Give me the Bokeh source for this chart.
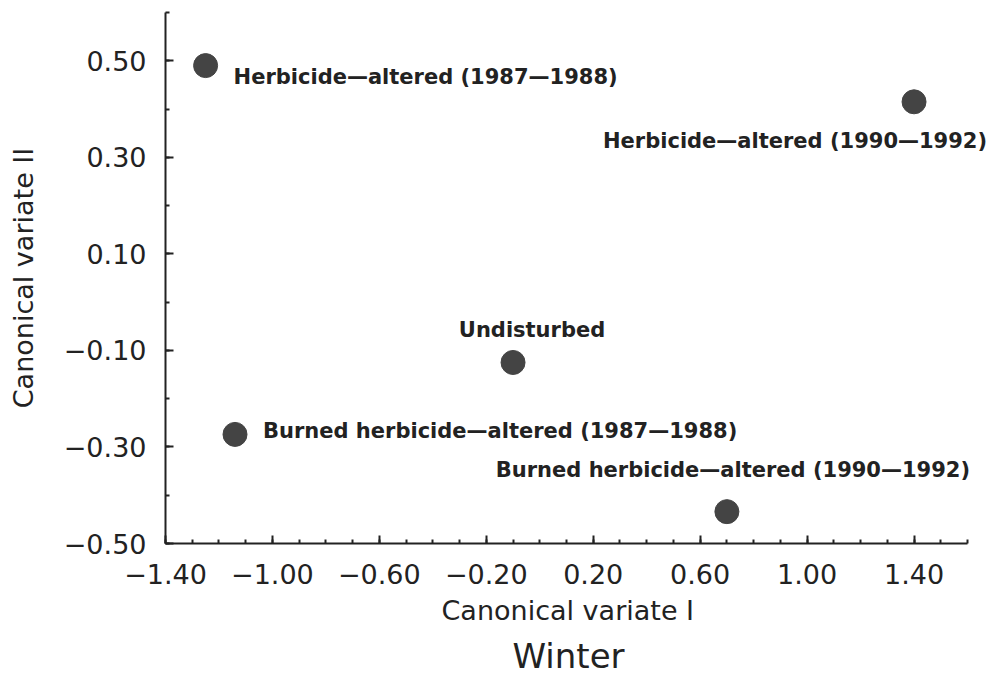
from bokeh.plotting import figure
from bokeh.models import FixedTicker, ColumnDataSource, Title
from bokeh.core.properties import value
from bokeh.embed import file_html
from bokeh.resources import INLINE

# Data
groups = ["Herbicide\u2014altered (1987\u20141988)",
          "Herbicide\u2014altered (1990\u20141992)",
          "Undisturbed",
          "Burned herbicide\u2014altered (1987\u20141988)",
          "Burned herbicide\u2014altered (1990\u20141992)"]
cv1 = [-1.25, 1.40, -0.10, -1.14, 0.70]
cv2 = [0.49, 0.415, -0.125, -0.274, -0.434]

x_ticks = [-1.40, -1.00, -0.60, -0.20, 0.20, 0.60, 1.00, 1.40]
y_ticks = [-0.50, -0.30, -0.10, 0.10, 0.30, 0.50]
x_lo, x_hi = -1.40, 1.60
y_lo, y_hi = -0.50, 0.60

# label placement (style, screen px relative to point)
lab_dx = [28, -119, 19, 28, 6]
lab_dy = [11, 39, -32, -3, -42]
lab_align = ["left", "center", "center", "left", "center"]

FONT = "DejaVu Sans"
INK = "#222222"

src = ColumnDataSource(dict(x=cv1, y=cv2, name=groups, dx=lab_dx, dy=lab_dy, al=lab_align))

# frame extends a little past the axis end so the right-hand label is not clipped
FW = 822
px_per_unit = 802 / (x_hi - x_lo)
x_view_hi = x_lo + FW / px_per_unit

p = figure(frame_width=FW, frame_height=531, x_range=(x_lo, x_view_hi), y_range=(y_lo, y_hi),
           output_backend="svg", toolbar_location=None,
           min_border_left=165, min_border_top=12, min_border_right=4, min_border_bottom=124)
p.outline_line_color = None
p.xgrid.visible = False
p.ygrid.visible = False
p.background_fill_color = "white"
p.border_fill_color = "white"

def mlabel(v):
    s = "%.2f" % v
    return s.replace("-", "\u2212")

p.xaxis.ticker = FixedTicker(ticks=x_ticks, minor_ticks=[round(x_lo + 0.1 * i, 2) for i in range(31)])
p.yaxis.ticker = FixedTicker(ticks=y_ticks, minor_ticks=[round(y_lo + 0.1 * i, 2) for i in range(12)])
p.xaxis.major_label_overrides = {v: mlabel(v) for v in x_ticks}
p.yaxis.major_label_overrides = {v: mlabel(v) for v in y_ticks}
p.xaxis.bounds = (x_lo, x_hi)

for ax in (p.xaxis, p.yaxis):
    ax.axis_line_width = 2
    ax.axis_line_color = INK
    ax.major_tick_in = 8
    ax.major_tick_out = 0
    ax.minor_tick_in = 4
    ax.minor_tick_out = 0
    ax.major_tick_line_width = 2
    ax.minor_tick_line_width = 2
    ax.major_tick_line_color = INK
    ax.minor_tick_line_color = INK
    ax.major_label_text_font = FONT
    ax.major_label_text_font_size = "27px"
    ax.major_label_text_color = INK
    ax.axis_label_text_font = FONT
    ax.axis_label_text_font_size = "27px"
    ax.axis_label_text_font_style = "normal"
    ax.axis_label_text_color = INK

p.yaxis.axis_label = "Canonical variate II"
p.xaxis.major_label_standoff = 20
p.yaxis.major_label_standoff = 19
p.yaxis.axis_label_standoff = 22

p.scatter("x", "y", source=src, size=24, fill_color="#444444", line_color="#444444")
p.text("x", "y", text="name", source=src, x_offset="dx", y_offset="dy", text_align="al",
       text_baseline="middle", text_font=value(FONT), text_font_size="21px",
       text_font_style="bold", text_color=INK)

# x-axis title and panel caption, centred under the axis (not the wider frame)
xt = Title(text="Canonical variate I", align="left", offset=276, text_font=FONT,
           text_font_size="27px", text_font_style="normal", text_color=INK, standoff=13)
p.add_layout(xt, "below")
t = Title(text="Winter", align="left", offset=347, text_font=FONT, text_font_size="34px",
          text_font_style="normal", text_color=INK, standoff=2)
p.add_layout(t, "below")

open("out.html", "w").write(file_html(p, INLINE))
